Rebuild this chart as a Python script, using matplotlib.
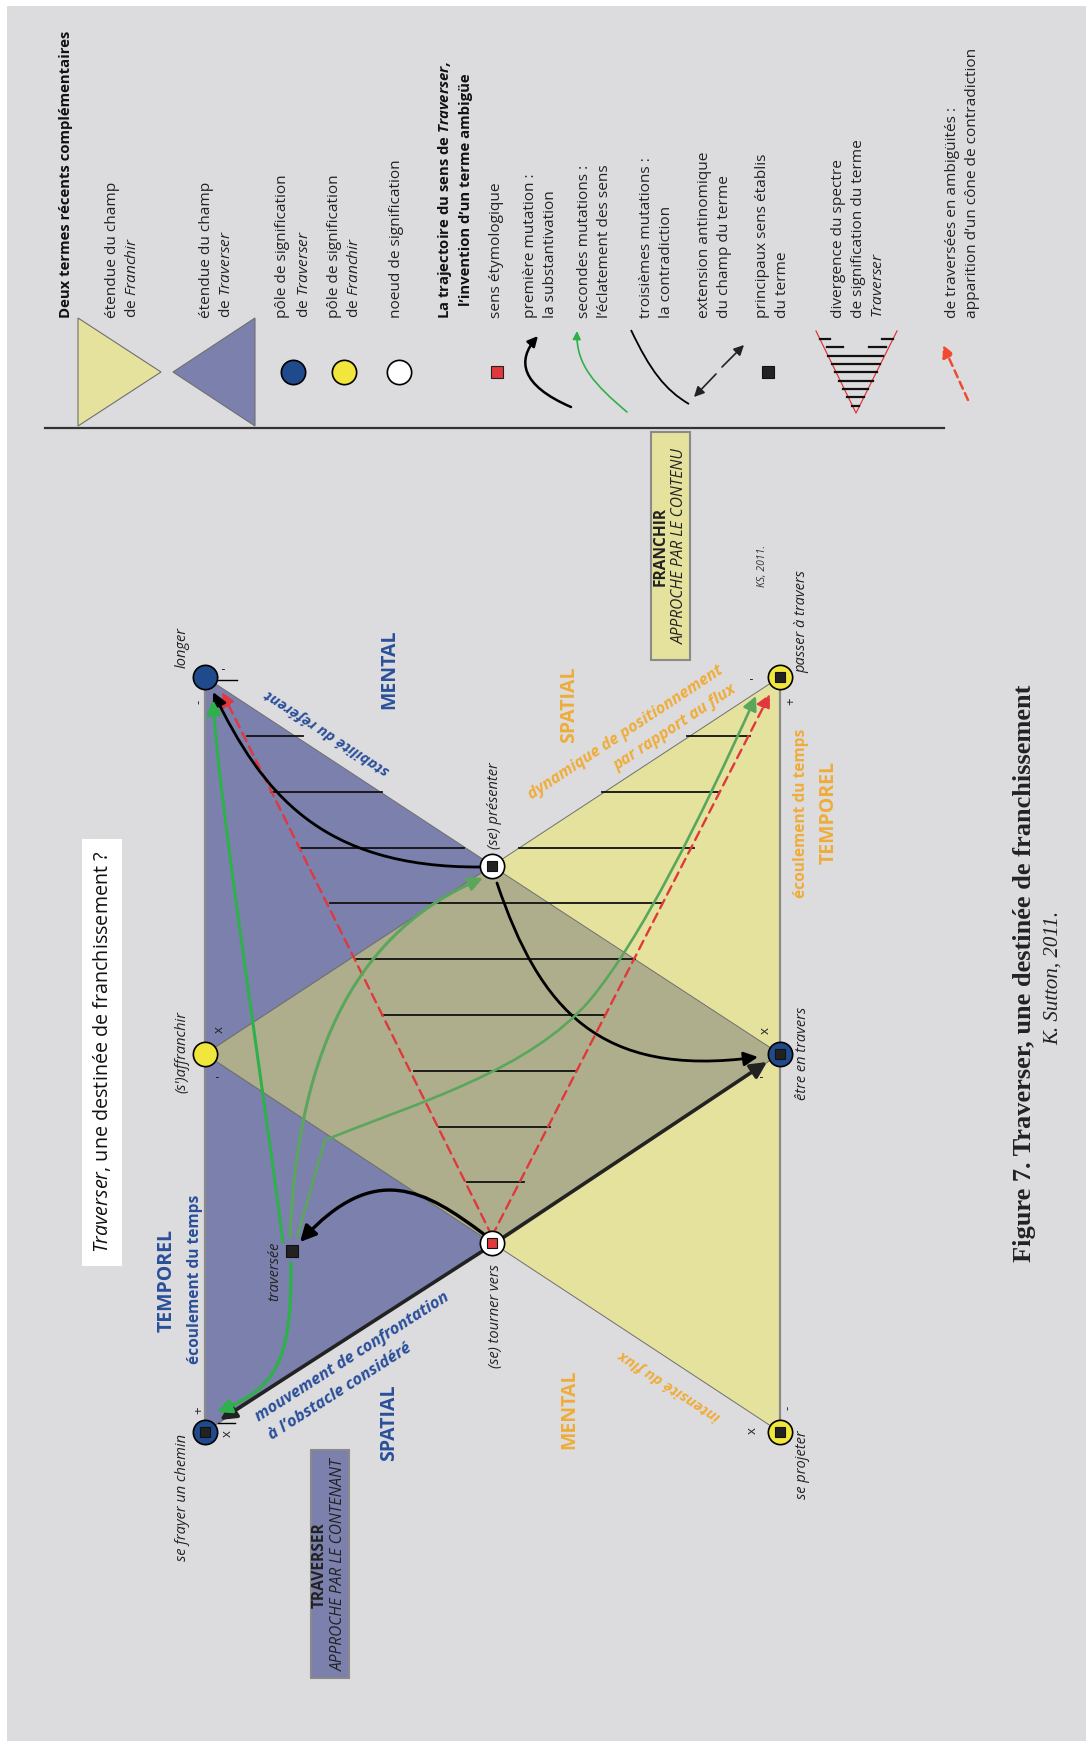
import matplotlib
matplotlib.use("Agg")
import matplotlib.pyplot as plt
from matplotlib.path import Path
from matplotlib.patches import Polygon, Rectangle, FancyArrowPatch, PathPatch

plt.rcParams['font.family'] = ['Open Sans', 'DejaVu Sans']
plt.rcParams['mathtext.fontset'] = 'custom'
plt.rcParams['mathtext.rm'] = 'Open Sans'
plt.rcParams['mathtext.it'] = 'Open Sans:italic'
plt.rcParams['mathtext.bf'] = 'Open Sans:italic:bold'

# colours
BG = "#dcdcde"
BLUE_F = "#7b80ad"
YEL_F = "#e5e29e"
OLIVE = "#afae8c"
NAVY = "#1f4a8c"
YEL_N = "#f0e63c"
TXT_B = "#2a4f9a"
TXT_O = "#efad3a"
GREEN1 = "#2eb04b"
GREEN2 = "#5ba65d"
RED = "#e0383c"
EDGE = "#6f6f6f"

# ---- data (pixel space of the page, y going down) ----
traverser_tri = [(205, 677), (205, 1432), (780, 1054)]
franchir_tri = [(780, 677), (780, 1432), (205, 1054)]

node_names = ["longer", "(s')affranchir", "se frayer un chemin", "(se) présenter",
              "(se) tourner vers", "passer à travers", "être en travers", "se projeter"]
node_x = [205, 205, 205, 492, 492, 780, 780, 780]
node_y = [677, 1054, 1432, 866, 1243, 677, 1054, 1432]
node_fill = [NAVY, YEL_N, NAVY, "white", "white", YEL_N, NAVY, YEL_N]
node_core = [None, None, "#222222", "#222222", RED, "#222222", "#222222", "#222222"]
traversee = (292, 1251)

# divergence cone hatching: y and (x0, x1) pieces
hatch_y = [736, 792, 848, 903, 959, 1015, 1071, 1127, 1182]
hatch_seg = [[(247, 303), (687, 750)], [(271, 382), (602, 718)], [(300, 464), (519, 694)],
             [(330, 661)], [(355, 635)], [(382, 605)], [(414, 575)], [(439, 550)], [(467, 524)]]

# trajectories (cubic bezier control points)
cur_substantiv = [(485, 1235), (425, 1190), (375, 1160), (300, 1242)]
cur_longer = [(481, 867), (320, 868), (262, 792), (213, 692)]
cur_etre = [(497, 883), (540, 1010), (600, 1078), (758, 1057)]
green_longer = [(283, 1242), (258, 1050), (219, 800), (213, 700)]
green_frayer = [(291, 1263), (292, 1362), (276, 1388), (217, 1412)]
green_present = [(290, 1237), (298, 1045), (360, 930), (483, 878)]
# straight run to a corner, then two curved pieces
green_passer = [(297, 1237), (325, 1140), (420, 1102), (530, 1070), (590, 1000),
                (640, 940), (700, 820), (756, 696)]
green_passer_codes = [Path.MOVETO, Path.LINETO] + [Path.CURVE4] * 6
cone_from = (492, 1236)
cone_to = [(222, 692), (770, 694)]
antinomic_from = (492, 1245)
antinomic_to = [(220, 1420), (767, 1062)]

# legend cone
leg_cone = [(816, 331), (856, 413), (897, 331)]
leg_hatch_y = [339, 347, 356, 364, 372, 381, 389, 397, 406]
leg_hatch_seg = [[(820, 830), (882, 893)], [(827, 843), (869, 886)], [(828, 883)], [(832, 880)],
                 [(835, 877)], [(839, 873)], [(843, 868)], [(847, 864)], [(852, 859)]]

fig = plt.figure(figsize=(10.88, 17.47), dpi=100)
ax = fig.add_axes([0, 0, 1, 1])
ax.set_xlim(0, 1088)
ax.set_ylim(1747, 0)
ax.axis("off")

ax.add_patch(Rectangle((7, 6), 1079, 1735, fc=BG, ec="none", zorder=0))


def bez(pts, codes=None):
    if codes is None:
        codes = [Path.MOVETO] + [Path.CURVE4] * (len(pts) - 1)
    return Path(pts, codes)


def arrow_path(pts, color, lw, ms=14, ls="-", z=5, codes=None):
    p = FancyArrowPatch(path=bez(pts, codes), arrowstyle="-|>,head_length=0.6,head_width=0.3",
                        mutation_scale=ms, color=color, lw=lw, linestyle=ls, zorder=z)
    ax.add_patch(p)


def arrow_line(a, b, color, lw, ms=14, ls="-", z=5):
    p = FancyArrowPatch(a, b, arrowstyle="-|>,head_length=0.6,head_width=0.3",
                        mutation_scale=ms, color=color, lw=lw, linestyle=ls,
                        shrinkA=0, shrinkB=0, zorder=z)
    ax.add_patch(p)


def vtext(x, y, s, size=11, va="center", **kw):
    ax.text(x, y, s, rotation=90, ha="center", va=va, fontsize=size, **kw)


# ---- the two fields ----
ax.add_patch(Polygon(traverser_tri, closed=True, fc=BLUE_F, ec=EDGE, lw=0.7, zorder=1))
ax.add_patch(Polygon(franchir_tri, closed=True, fc=YEL_F, ec=EDGE, lw=0.7, zorder=1))
diamond = [(node_x[1], node_y[1]), (node_x[3], node_y[3]), (node_x[6], node_y[6]), (node_x[4], node_y[4])]
ax.add_patch(Polygon(diamond, closed=True, fc=OLIVE, ec=EDGE, lw=0.7, zorder=1))
ax.plot([205, 205], [677, 1432], color="#8a8a8a", lw=1.6, zorder=2)
ax.plot([780, 780], [677, 1432], color="#8a8a8a", lw=1.6, zorder=2)

for y, segs in zip(hatch_y, hatch_seg):
    for x0, x1 in segs:
        ax.plot([x0, x1], [y, y], color="#111111", lw=1.3, zorder=3)

# cone of contradiction
for end in cone_to:
    arrow_line(cone_from, end, RED, 1.7, ms=14, ls=(0, (4, 2.5)), z=4)

# antinomic extension
for end in antinomic_to:
    arrow_line(antinomic_from, end, "#222222", 2.6, ms=16, z=5)

# trajectories
arrow_path(cur_substantiv, "black", 2.4, ms=16)
arrow_path(cur_longer, "black", 2.0, ms=14)
arrow_path(cur_etre, "black", 2.0, ms=14)
arrow_path(green_longer, GREEN1, 2.2, ms=14)
arrow_path(green_frayer, GREEN1, 2.4, ms=14)
arrow_path(green_present, GREEN2, 2.2, ms=14)
arrow_path(green_passer, GREEN2, 1.9, ms=14, codes=green_passer_codes)

# nodes
for x, y, fc, core in zip(node_x, node_y, node_fill, node_core):
    ax.plot(x, y, "o", ms=17.5, mfc=fc, mec="black", mew=1.2, zorder=8)
    if core is not None:
        ax.plot(x, y, "s", ms=7.6, mfc=core, mec="#111111", mew=0.8, zorder=9)
ax.plot(*traversee, "s", ms=8, mfc="#222222", mec="#111111", mew=0.8, zorder=9)

# small sign ticks
ax.plot([218, 237], [680, 680], color="black", lw=1.0, zorder=7)
ax.plot([218, 235], [1423, 1423], color="black", lw=1.0, zorder=7)
signs = [(199, 702, "-"), (227, 668, "'"), (219, 1030, "x"), (221, 1076, "'"),
         (199, 1410, "+"), (227, 1434, "x"), (765, 1031, "x"), (766, 1076, "'"),
         (756, 678, "'"), (791, 701, "+"), (788, 1408, "-"), (752, 1431, "x")]
for x, y, s in signs:
    vtext(x, y, s, 9.5, color="#222222", zorder=7)

# node labels
lab = dict(fontsize=10.5, style="italic", color="#222222", rotation=90, ha="center")
ax.text(182, 668, node_names[0], va="bottom", **lab)
ax.text(182, 1052, node_names[1], va="center", **lab)
ax.text(182, 1434, node_names[2], va="top", **lab)
ax.text(495, 849, node_names[3], va="bottom", **lab)
ax.text(495, 1264, node_names[4], va="top", **lab)
ax.text(802, 673, node_names[5], va="bottom", **lab)
ax.text(802, 1053, node_names[6], va="center", **lab)
ax.text(803, 1430, node_names[7], va="top", **lab)
ax.text(275, 1242, "traversée", va="top", **lab)

# region labels
vtext(389, 669, "MENTAL", 14, weight="bold", color=TXT_B)
vtext(167, 1280, "TEMPOREL", 14, weight="bold", color=TXT_B)
vtext(195, 1279, "écoulement du temps", 11.2, weight="bold", color=TXT_B)
vtext(389, 1423, "SPATIAL", 14, weight="bold", color=TXT_B)
vtext(569, 705, "SPATIAL", 14, weight="bold", color=TXT_O)
vtext(801, 813, "écoulement du temps", 11.2, weight="bold", color=TXT_O)
vtext(829, 812, "TEMPOREL", 14, weight="bold", color=TXT_O)
vtext(569, 1409, "MENTAL", 14, weight="bold", color=TXT_O)

sl = dict(weight="bold", style="italic", ha="center", va="center", rotation_mode="anchor")
ax.text(327, 732, "stabilité du référent", rotation=147, color=TXT_B, fontsize=11, **sl)
ax.text(352, 1357, "mouvement de confrontation", rotation=32.6, color=TXT_B, fontsize=11.8, **sl)
ax.text(340, 1392, "à l’obstacle considéré", rotation=32.6, color=TXT_B, fontsize=11.8, **sl)
ax.text(626, 733, "dynamique de positionnement", rotation=33.5, color=TXT_O, fontsize=11.5, **sl)
ax.text(675, 728, "par rapport au flux", rotation=33.5, color=TXT_O, fontsize=11.5, **sl)
ax.text(670, 1386, "intensité du flux", rotation=147, color=TXT_O, fontsize=11, **sl)

# title box
ax.add_patch(Rectangle((82, 839), 40, 427, fc="white", ec="none", zorder=2))
vtext(102, 1052, r"$\mathit{Traverser}$, une destinée de franchissement ?", 14.2,
      color="#111111", zorder=3)

# approach boxes
ax.add_patch(Rectangle((651, 432), 39, 228, fc=YEL_F, ec="#8a8a8a", lw=1.5, zorder=2))
vtext(661, 546, "FRANCHIR", 11.2, weight="bold", color="#222222", zorder=3)
vtext(680, 546, "APPROCHE PAR LE CONTENU", 11.2, style="italic", color="#222222", zorder=3)
ax.add_patch(Rectangle((311, 1450), 38, 228, fc=BLUE_F, ec="#8a8a8a", lw=1.5, zorder=2))
vtext(320, 1565, "TRAVERSER", 11.2, weight="bold", color="#222222", zorder=3)
vtext(339, 1565, "APPROCHE PAR LE CONTENANT", 11.2, style="italic", color="#222222", zorder=3)
vtext(763, 566, "KS, 2011.", 7.5, style="italic", color="#333333")

# caption
vtext(1025, 973, "Figure 7. Traverser, une destinée de franchissement", 19,
      family="Liberation Serif", weight="bold", color="#222222")
vtext(1053, 978, "K. Sutton, 2011.", 15, family="Liberation Serif", style="italic",
      color="#222222")

# ---- legend ----
ax.plot([45, 944], [428, 428], color="#333333", lw=1.6, zorder=2)
ax.add_patch(Polygon([(78, 318), (78, 426), (161, 372)], closed=True, fc=YEL_F, ec=EDGE, lw=0.8))
ax.add_patch(Polygon([(255, 318), (255, 426), (173, 372)], closed=True, fc=BLUE_F, ec=EDGE, lw=0.8))
ax.plot(293, 372, "o", ms=17.5, mfc=NAVY, mec="black", mew=1.2)
ax.plot(344, 372, "o", ms=17.5, mfc=YEL_N, mec="black", mew=1.2)
ax.plot(399, 372, "o", ms=17.5, mfc="white", mec="black", mew=1.2)
ax.plot(497, 372, "s", ms=8, mfc=RED, mec="#222222", mew=0.8)
ax.plot(768, 372, "s", ms=8, mfc="#222222", mec="#111111", mew=0.8)
arrow_path([(571, 407), (520, 385), (517, 360), (538, 336)], "black", 1.8, ms=10)
arrow_path([(627, 412), (595, 385), (576, 365), (577, 331)], GREEN1, 1.2, ms=8)
ax.add_patch(PathPatch(bez([(631, 330), (650, 370), (665, 390), (689, 404)]), fill=False,
                       ec="black", lw=1.3))
arrow_line((716, 374), (694, 397), "#222222", 1.2, ms=10)
arrow_line((722, 367), (744, 345), "#222222", 1.2, ms=10)
ax.plot([c[0] for c in leg_cone], [c[1] for c in leg_cone], color=RED, lw=0.9)
for y, segs in zip(leg_hatch_y, leg_hatch_seg):
    for x0, x1 in segs:
        ax.plot([x0, x1], [y, y], color="#111111", lw=1.6)
arrow_line((968, 400), (943, 345), "#f04a30", 1.8, ms=12, ls=(0, (3, 2)))

lt = dict(color="#222222", size=11.1)
vtext(66, 318, "Deux termes récents complémentaires", 10.7, va="bottom", weight="bold",
      color="#111111")
legend_lines = [
    (112, "étendue du champ"), (133, r"de $\mathit{Franchir}$"),
    (206, "étendue du champ"), (227, r"de $\mathit{Traverser}$"),
    (283, "pôle de signification"), (304, r"de $\mathit{Traverser}$"),
    (334, "pôle de signification"), (355, r"de $\mathit{Franchir}$"),
    (397, "noeud de signification"),
    (496, "sens étymologique"),
    (531, "première mutation :"), (551, "la substantivation"),
    (585, "secondes mutations :"), (605, "l’éclatement des sens"),
    (646, "troisièmes mutations :"), (666, "la contradiction"),
    (704, "extension antinomique"), (725, "du champ du terme"),
    (762, "principaux sens établis"), (782, "du terme"),
    (838, "divergence du spectre"), (858, "de signification du terme"),
    (878, r"$\mathit{Traverser}$"),
    (952, "de traversées en ambigüités :"), (972, "apparition d’un cône de contradiction"),
]
for x, s in legend_lines:
    vtext(x, 318, s, va="bottom", **lt)
vtext(445, 190, r"La trajectoire du sens de $\mathbf{Traverser,}$", 10.7, weight="bold",
      color="#111111")
vtext(466, 190, "l’invention d’un terme ambigüe", 10.7, weight="bold", color="#111111")

fig.savefig("out.png", dpi=100)
